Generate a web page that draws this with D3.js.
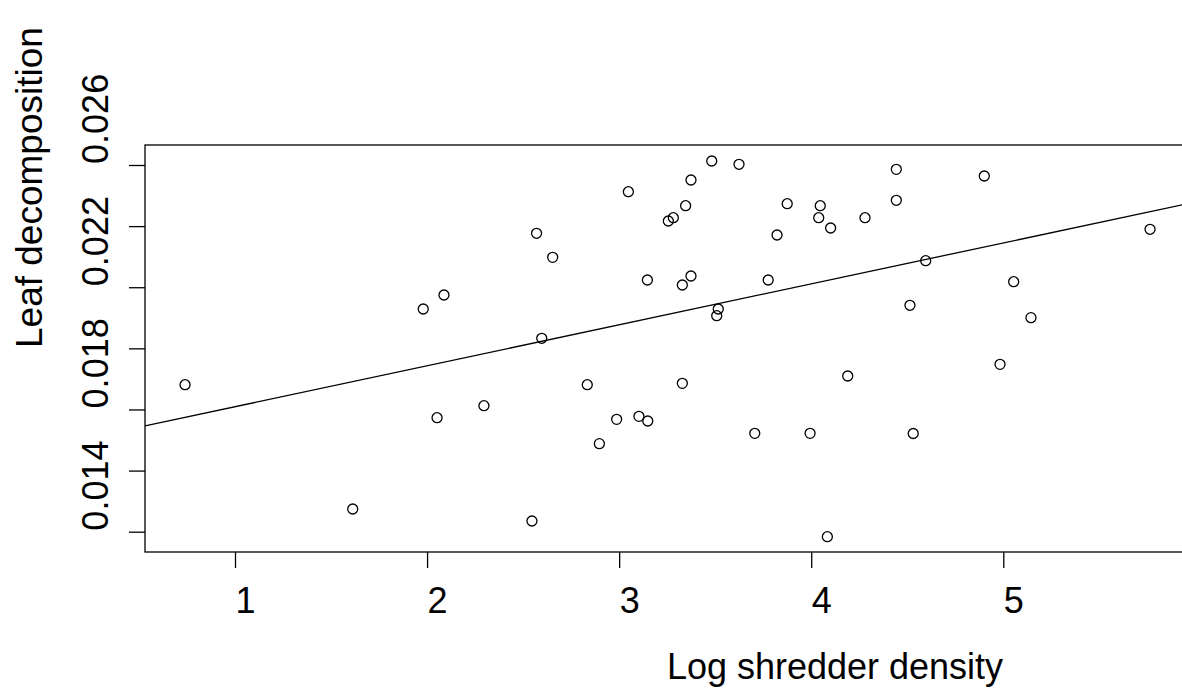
<!DOCTYPE html>
<html>
<head>
<meta charset="utf-8">
<script src="https://cdn.jsdelivr.net/npm/d3@7"></script>
<style>
  html, body { margin: 0; padding: 0; background: #fff; }
  svg { display: block; font-family: "Liberation Sans", Arial, sans-serif; }
</style>
</head>
<body>
<svg id="chart" width="1182" height="691"></svg>
<script>
// ---- data ----
const shredderDensity = [
  0.740, 1.613, 1.980, 2.088, 2.052, 2.296, 2.546, 2.570, 2.597, 2.654,
  2.834, 2.897, 2.987, 3.048, 3.103, 3.149, 3.147, 3.256, 3.282, 3.329,
  3.329, 3.346, 3.374, 3.374, 3.482, 3.508, 3.516, 3.624, 3.706, 3.776,
  3.822, 3.875, 3.994, 4.039, 4.047, 4.084, 4.101, 4.190, 4.280, 4.443,
  4.443, 4.514, 4.531, 4.596, 4.901, 4.983, 5.054, 5.144, 5.764
];
const leafDecomposition = [
  0.01681, 0.012743, 0.019288, 0.019746, 0.015730, 0.016123, 0.01235, 0.021765, 0.018329, 0.020979,
  0.01681, 0.014880, 0.015678, 0.023126, 0.015776, 0.015622, 0.020236, 0.022167, 0.022275, 0.016856,
  0.020073, 0.022668, 0.023509, 0.020367, 0.024131, 0.019068, 0.019288, 0.024023, 0.015220, 0.020236,
  0.021709, 0.022733, 0.015220, 0.022275, 0.022668, 0.011836, 0.021938, 0.017095, 0.022275, 0.023859,
  0.022845, 0.019409, 0.015213, 0.020868, 0.023640, 0.017478, 0.020181, 0.019003, 0.021896
];
const xTicks = [1, 2, 3, 4, 5];
const yTicks = [0.012, 0.014, 0.016, 0.018, 0.020, 0.022, 0.024];
const yTickLabels = [0.014, 0.018, 0.022, 0.026];
const fitIntercept = 0.01475;
const fitSlope = 0.00134;
const xLabel = "Log shredder density";
const yLabel = "Leaf decomposition";

// ---- layout ----
const box = { left: 145, right: 1186, top: 145, bottom: 552 };
const svg = d3.select("#chart");

const x = d3.scaleLinear().domain([1, 5]).range([235, 1003.3]);
const y = d3.scaleLinear().domain([0.012, 0.024]).range([531.7, 165]);

const stroke = "#000";
const lw = 1.3;

// clip for plot region
svg.append("defs").append("clipPath").attr("id", "plotclip")
  .append("rect")
  .attr("x", box.left).attr("y", box.top)
  .attr("width", box.right - box.left).attr("height", box.bottom - box.top);

// regression line
const x0 = x.invert(box.left), x1 = x.invert(box.right);
svg.append("line")
  .attr("clip-path", "url(#plotclip)")
  .attr("x1", x(x0)).attr("y1", y(fitIntercept + fitSlope * x0))
  .attr("x2", x(x1)).attr("y2", y(fitIntercept + fitSlope * x1))
  .attr("stroke", stroke).attr("stroke-width", lw);

// points
svg.append("g").selectAll("circle")
  .data(shredderDensity.map((d, i) => [d, leafDecomposition[i]]))
  .join("circle")
  .attr("cx", d => x(d[0]))
  .attr("cy", d => y(d[1]))
  .attr("r", 5)
  .attr("fill", "none")
  .attr("stroke", stroke)
  .attr("stroke-width", lw);

// box
svg.append("rect")
  .attr("x", box.left).attr("y", box.top)
  .attr("width", box.right - box.left).attr("height", box.bottom - box.top)
  .attr("fill", "none").attr("stroke", stroke).attr("stroke-width", lw);

// x axis
const gx = svg.append("g")
  .attr("transform", `translate(0,${box.bottom})`)
  .call(d3.axisBottom(x).tickValues(xTicks).tickSize(16).tickFormat(d3.format("d")));
gx.select(".domain").remove();
gx.selectAll(".tick line").attr("stroke", stroke).attr("stroke-width", lw);
gx.selectAll(".tick text")
  .attr("y", 61).attr("dy", 0).attr("x", 10)
  .attr("fill", "#000")
  .style("font-size", "36px")
  .style("font-family", '"Liberation Sans", Arial, sans-serif');

// y axis (ticks only)
const gy = svg.append("g")
  .attr("transform", `translate(${box.left},0)`)
  .call(d3.axisLeft(y).tickValues(yTicks).tickSize(16).tickFormat(""));
gy.select(".domain").remove();
gy.selectAll(".tick line").attr("stroke", stroke).attr("stroke-width", lw);

// y tick labels (rotated, as in the reference)
svg.append("g").selectAll("text")
  .data(yTickLabels)
  .join("text")
  .attr("transform", d => `translate(108,${y(d) + 15}) rotate(-90)`)
  .attr("text-anchor", "middle")
  .style("font-size", "36px")
  .attr("fill", "#000")
  .text(d => d3.format(".3f")(d));

// axis titles
svg.append("text")
  .attr("x", 835).attr("y", 679)
  .attr("text-anchor", "middle")
  .style("font-size", "36px")
  .attr("fill", "#000")
  .text(xLabel);

svg.append("text")
  .attr("transform", "translate(42,348) rotate(-90)")
  .attr("text-anchor", "start")
  .style("font-size", "37px")
  .attr("fill", "#000")
  .text(yLabel);
</script>
</body>
</html>
